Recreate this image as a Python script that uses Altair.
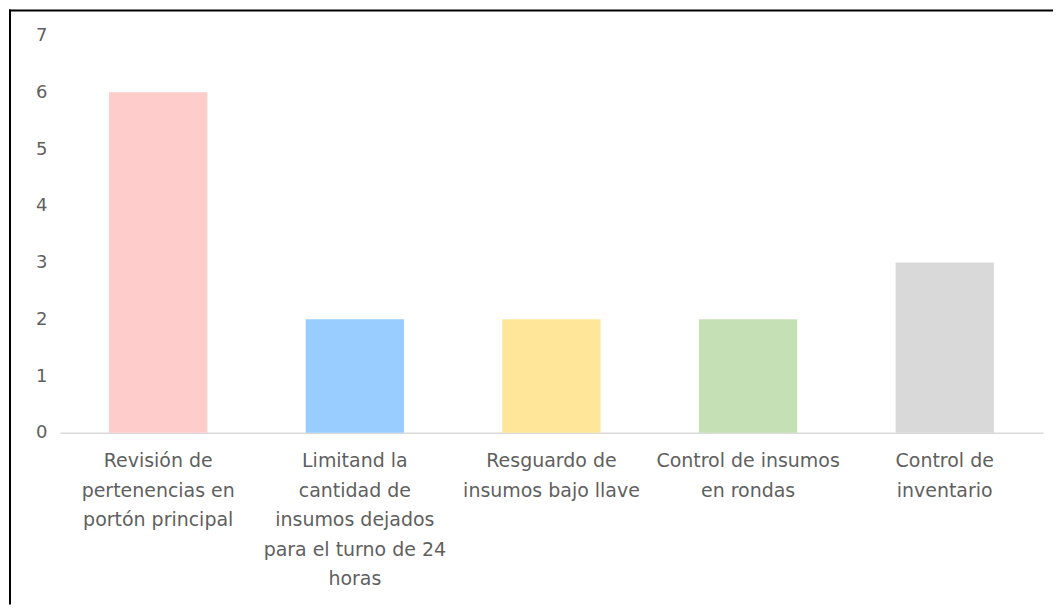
import altair as alt
import pandas as pd

categories = [
    "Revisión de|pertenencias en|portón principal",
    "Limitand la|cantidad de|insumos dejados|para el turno de 24|horas",
    "Resguardo de|insumos bajo llave",
    "Control de insumos|en rondas",
    "Control de|inventario",
]
values = [6, 2, 2, 2, 3]
colors = ["#FFCCCC", "#99CCFF", "#FFE699", "#C5E0B4", "#D9D9D9"]

df = pd.DataFrame({"cat": categories, "val": values})

FONT = "DejaVu Sans"
GRAY = "#5f5f5f"

bars = alt.Chart(df).mark_bar().encode(
    x=alt.X(
        "cat:N",
        sort=categories,
        scale=alt.Scale(paddingInner=0.5, paddingOuter=0.25),
        axis=alt.Axis(
            title=None, labelAngle=0, labelExpr="split(datum.label, '|')",
            labelFont=FONT, labelFontSize=19, labelColor=GRAY, labelLineHeight=29.5,
            labelPadding=19, labelLimit=0, ticks=False, domainColor="#D9D9D9",
            domainWidth=1.5, labelAlign="center", labelBaseline="top",
        ),
    ),
    y=alt.Y(
        "val:Q",
        scale=alt.Scale(domain=[0, 7]),
        axis=alt.Axis(
            title=None, values=[0, 1, 2, 3, 4, 5, 6, 7], grid=False, domain=False,
            ticks=False, labelFont=FONT, labelFontSize=18, labelColor=GRAY,
            labelPadding=13,
        ),
    ),
    color=alt.Color("cat:N", scale=alt.Scale(domain=categories, range=colors), legend=None),
)

frame_df = pd.DataFrame({"a": [0]})
left_rule = alt.Chart(frame_df).mark_rule(color="black", strokeWidth=2).encode(
    x=alt.value(-50), y=alt.value(-26), y2=alt.value(570)
)
top_rule = alt.Chart(frame_df).mark_rule(color="black", strokeWidth=2).encode(
    x=alt.value(-51), x2=alt.value(995), y=alt.value(-25)
)

chart = alt.layer(bars, left_rule, top_rule).properties(
    width=985, height=398, padding=0
).configure_view(stroke=None)

chart.save("out.html", embed_options={"renderer": "svg", "actions": False})
